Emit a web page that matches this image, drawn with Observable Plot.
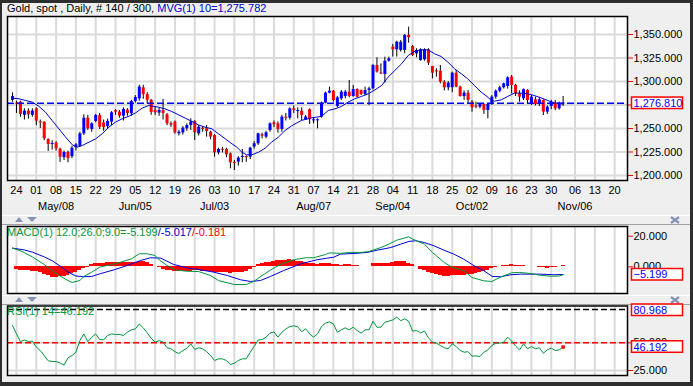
<!DOCTYPE html>
<html>
<head>
<meta charset="utf-8">
<script src="https://cdn.jsdelivr.net/npm/d3@7"></script>
<script src="https://cdn.jsdelivr.net/npm/@observablehq/plot@0.6"></script>
<style>
  html, body { margin: 0; padding: 0; background: #2e2e2e; }
  #chart { position: relative; width: 693px; height: 386px; overflow: hidden; background: #2e2e2e; font-family: "Liberation Sans", Arial, sans-serif; }
  #panel { position: absolute; left: 2px; top: 3px; width: 688px; height: 379px; background: #efefef; }
  .pane { position: absolute; left: 0; }
  #overlay { position: absolute; left: 0; top: 0; pointer-events: none; }
</style>
</head>
<body>
<div id="chart"><div id="panel"></div></div>
<script>
// ---------- DATA (x = trading-day index) ----------
const opens = [1280,1277,1278,1264,1268.5,1264,1270.9,1257,1256.8,1238.3,
1233,1234.5,1228,1219,1224.5,1220,1229.5,1231.2,1244.3,1261,
1249,1257.5,1263.8,1256,1252,1256.8,1269,1267.4,1263.1,1269.5,
1265.6,1278.7,1281.6,1293.3,1286,1280,1269,1266.4,1269,1264.6,
1255,1256.8,1244.3,1245.4,1249.7,1253.2,1257.5,1244.3,1250.4,1249.7,
1246.1,1242.6,1224.1,1227.7,1227.7,1223,1213.5,1214.2,1219.5,1220,
1219.5,1230.2,1233.7,1243.3,1240.8,1247.9,1256,1255,1249,1262.1,
1261,1270.9,1268.4,1268.4,1259.2,1269.9,1258.5,1258.5,1262.1,1277,
1287.6,1289.7,1273.4,1281.6,1284,1288.7,1284,1291.5,1290.4,1286.2,
1290.4,1292.2,1317,1308.9,1307.5,1321.6,1336.5,1333.7,1333,1333,
1349,1337.2,1329.4,1322.3,1323.1,1333.7,1316,1311,1311,1299.3,
1293.3,1293.3,1308.9,1294,1284,1287.6,1278,1273.4,1272.7,1275.6,
1269.2,1276.3,1283.4,1289.7,1293.3,1294.7,1304.6,1295.8,1287,1281.6,
1290.4,1276.3,1280.5,1276.3,1279.8,1267.4,1273.4,1277,1270.9,1276.5];
const highs = [1288,1279,1279,1271,1271,1271,1272,1259,1257,1239,
1237,1236,1229,1226,1226,1231,1234,1246,1264.6,1264,
1256,1265,1266,1259,1260,1268,1270,1269,1272,1271,
1280,1285,1296,1296,1288,1281,1273,1272,1281,1266,
1257,1258,1248,1252,1255,1260.3,1258.5,1253,1252,1253.2,
1247,1243.5,1229,1230,1229,1224,1216,1220,1227.7,1221,
1230,1236,1245,1245,1247,1256,1258,1257,1264,1266,
1272,1274,1272,1272,1263.8,1270.9,1261.4,1260.3,1278,1288.7,
1294,1290.4,1284.1,1290.4,1290.4,1301.1,1295.8,1292.2,1291,1294,
1294,1318,1325.2,1318.8,1325.9,1325.9,1339.4,1342.9,1343.6,1350,
1357.8,1338.3,1334.8,1334.8,1334.8,1334.8,1316,1313.5,1317,1301,
1300,1310,1311.7,1295,1290,1290.4,1279.8,1278,1276.3,1276.3,
1276.3,1285,1291,1295,1298.2,1305,1306.4,1297,1290,1292,
1291.2,1285,1283.4,1282.6,1280.5,1274,1280,1279.8,1278,1284];
const lows = [1278,1266,1262,1259,1260,1262,1253,1250,1237,1225.6,
1227,1226,1214,1216,1213.5,1218,1226,1230,1242.6,1248,
1246,1256,1249,1247,1250,1253,1264,1261,1258,1263,
1263,1277,1279,1281,1276,1264,1264,1263,1259,1253,
1251,1244,1242,1243,1247,1248,1237.3,1242,1246,1240.8,
1238,1219.5,1222,1224,1219,1207.1,1205.3,1210,1213.5,1214,
1217,1228,1232,1239,1239,1246,1251,1245,1246,1258,
1259,1266,1260.3,1258.5,1258.5,1254.3,1255,1249.7,1261,1276.3,
1286.9,1278,1272,1279.8,1281.6,1282.6,1283.3,1282.6,1285,1285,
1274.5,1291,1308.9,1307.5,1298.2,1320.6,1326,1326,1331.2,1329.4,
1340.8,1326.6,1325.2,1321.6,1321.6,1317,1302.8,1304.6,1297.5,1290,
1290,1288,1293.3,1283.4,1280,1275.6,1267.4,1271,1270.9,1265,
1260.3,1274.5,1281,1288,1292,1292,1286.9,1284,1278,1279.8,
1276.3,1274.5,1274,1273.4,1263.8,1265,1270,1269,1269.5,1273.5];
const closes = [1284,1276,1265,1268.5,1264.6,1268.5,1257.8,1256,1239,1233,
1234,1228.4,1219.5,1224.5,1218,1229,1232.6,1244.3,1261,1249.7,
1255,1263.8,1251.4,1251,1257.5,1266.7,1267.4,1263.1,1270.2,1266,
1278.7,1283,1294,1286,1280,1267,1266.7,1269.2,1266,1255,
1253.5,1245.4,1246.1,1250.4,1253.2,1256.8,1245.4,1251.4,1249,1246.8,
1240.8,1224.1,1227.7,1227,1222,1213.5,1213,1218.5,1220,1219.2,
1229.1,1233.7,1244.3,1241.9,1245.4,1255,1254,1249,1262.1,1261,
1270.9,1269.2,1268.8,1263.8,1262.1,1259.2,1258.8,1259,1277,1287.6,
1289.7,1279.8,1282.6,1288.7,1288.7,1284,1291.5,1283.3,1286.2,1290.4,
1292.2,1317,1310,1308.2,1321.6,1324.1,1333.7,1341.8,1341.8,1349,
1346.5,1327.7,1333,1333.7,1333.7,1319.5,1308.9,1310.5,1299.3,1293.3,
1298.2,1308.9,1294,1284,1287.6,1279.8,1272,1273,1275.6,1269.2,
1275.6,1283.4,1289.7,1293.3,1297.5,1303.9,1295.8,1286.9,1283.4,1291.2,
1279.8,1283.4,1275.6,1280.5,1267.4,1272.7,1277.7,1270.9,1277,1276.81];

// 10-period moving average, read at these day positions
const maIdx = [0,1.6,3.3,5,6.6,8.3,10,11.7,13.4,15.1,16.3,17.6,19.3,21,22.6,24.3,26,27.7,29.4,31.1,
32.7,34.4,36.8,38.5,40.2,41.9,43.6,45.3,46.9,48.6,50.3,52,53.7,55.4,56.6,57.9,59.1,60.4,62.1,63.8,
65.4,67.1,68.8,70.5,72.9,75.5,78,79.7,81.4,83,84.7,86.4,88.1,89.8,91.5,93.2,94.8,96.5,98.2,99.9,
101.6,103.2,104.9,106.6,108.2,109.9,111.6,113.3,114.9,116.6,118.3,120,120.8,121.7,123.4,125,126.7,128.4,130.1,131.7,
133.4,135.1,136.8,138.5,139];
const maVal = [1282.3,1281.6,1279.8,1278,1273.8,1267.4,1258.5,1249.7,1240.8,1232.6,1230.2,1231.9,1235.5,1239,1244.3,1251.4,1256.8,1260.3,1263.1,1266.7,
1271.6,1274.5,1272.7,1270.9,1268.1,1264.6,1261,1257.5,1253.9,1251.4,1249.7,1244.3,1239,1233.7,1230.2,1224.8,1222,1222,1224.8,1229.1,
1235.5,1240.8,1247.9,1253,1258.5,1261.4,1262.8,1269.2,1270.9,1273.4,1278,1281.6,1284.1,1286.9,1291.1,1295.8,1304.6,1311.7,1318.8,1327.7,
1332.3,1333.7,1333.7,1329.4,1326.6,1320.6,1313.5,1308.2,1302.9,1295.8,1288.7,1283.4,1279.8,1279.1,1280.5,1284.1,1287.6,1287.6,1286.9,1285.1,
1282.6,1279.8,1277.3,1276.3,1275.8];

// MACD line (green) and signal (blue), read at these day positions
const macdIdx = [0,2,5,8,10,12,14,15,17,18,20,22,25,27,30,32,34,36,37,39,41,44,47,50,52,56,59,61,63,66,
68,71,74,76,79,80,83,85,88,90,93,95,97,100,101,104,106,109,111,114,116,119,121,123,126,128,131,133,136,138,139];
const macdVal = [12.2,10.5,6.5,1.5,-2.5,-6.0,-9.0,-10.2,-9.0,-6.3,-3.5,-0.2,1.5,2.8,5.2,8.5,8.5,7.4,4.6,0.9,
-2.0,-2.9,-3.1,-5.7,-9.0,-11.6,-11.6,-9.4,-5.7,-0.7,1.9,4.6,5.9,5.9,8.0,9.1,8.8,9.4,9.4,10.0,
12.6,14.8,17.4,19.6,18.1,14.8,9.4,2.8,-0.4,-2.6,-7.0,-9.2,-9.6,-7.0,-3.9,-3.7,-4.4,-5.5,-6.2,-6.0,-5.199];
const sigIdx = [0,3,5,8,10,12,14,16,18,20,22,25.6,29,32.3,34.8,37.4,40.7,44.1,47.5,50.8,
54.2,57.6,60.1,62.6,65.1,68.5,72.7,76.9,81.1,82.8,86.2,89.6,92.1,95.5,98,100.1,101.8,103.9,106.4,108.9,
111.4,113.9,116.5,119,121.1,123.2,125.8,128.3,130.8,133.3,136.7,139];
const sigVal = [12.2,11.0,9.6,6.5,4.0,0.5,-3.5,-6.0,-6.5,-6.3,-4.6,-2.0,0.9,4.1,5.9,5.7,1.5,-0.7,-2.0,-3.5,
-5.7,-8.5,-9.6,-8.95,-6.3,-2.4,1.9,4.6,6.3,8.3,8.7,9.4,10.9,12.6,14.8,16.6,17.0,15.9,13.7,10.9,
8.3,5.0,0.7,-2.6,-6.3,-6.5,-5.2,-4.8,-4.8,-4.8,-5.2,-5.017];
// MACD histogram, one value per day
const histVals = [0.5,-1.5,-2.2,-2.4,-2.6,-2.8,-3.2,-3.8,-4.8,-6.0,
-6.8,-7.2,-6.5,-6.2,-5.5,-4.6,-3.5,-2.6,-1.3,-0.3,
1.3,2.2,2.2,2.4,2.6,2.6,3.0,3.0,3.0,3.0,
2.8,2.8,3.3,3.5,2.6,1.5,0.5,-0.5,-1.8,-2.4,
-2.6,-3.0,-3.2,-3.3,-3.0,-2.8,-2.6,-2.6,-2.8,-3.0,
-3.3,-3.5,-3.5,-3.7,-3.9,-4.1,-4.0,-3.9,-3.5,-3.0,
-2.0,-0.5,1.5,2.0,2.6,3.0,3.5,4.0,4.3,4.4,
4.5,3.9,3.5,3.2,2.6,2.2,1.9,1.5,1.9,2.4,
2.2,1.7,1.3,1.0,1.3,1.3,0.9,0.9,0.5,0.2,
0.2,1.9,1.9,2.0,2.2,2.4,3.0,3.3,3.5,3.3,
2.4,1.5,0.2,-1.5,-2.4,-3.5,-4.4,-4.8,-5.7,-6.2,
-6.5,-6.0,-5.5,-5.7,-5.7,-5.0,-4.8,-4.4,-3.5,-3.0,
-2.2,-1.3,-0.6,0.2,0.6,0.8,1.2,0.9,0.6,0.6,
0.4,0.2,0.0,-0.2,-0.6,-0.8,-0.4,-0.3,0.2,0.7];
// RSI(14), one value per day
const rsiVals = [65.6,58,51,52.5,51.2,51.5,46.1,43,38.5,33.7,
33.1,33.1,31.8,29.8,36.5,38.5,41.5,52,58,51,
55,58,53,52.7,56.6,58,57.5,57.5,56.6,59.6,
61.7,62.6,67,63.5,59,54,50.6,52,50.6,45.5,
44.6,42,40.3,43,45,49,44,45.5,44.6,42,
38.5,34,35.5,35.5,34,30.4,31.5,34,35.5,35.5,
41.5,46.7,52.5,53,55.1,58.7,59.9,55.1,59.6,62.5,
64.7,65.3,64.5,60,62.6,58.1,55.1,58.1,64.7,67.7,
68.9,67.1,59.6,61.7,63.5,61.7,64.1,61,58.7,61.7,
61.7,69.5,64,64.1,68.6,69.5,70.7,73.1,70,71.6,
69.5,60.5,61.1,59,60.5,54.5,50.6,49.7,47.6,45.5,
44.6,49.1,46.7,43,41.5,42,38,38.2,37.6,41.5,
43.6,47.6,49.7,49.7,50.6,55.1,51.5,47,43.6,49.1,
44.6,46.7,44.6,45.5,40.6,43.6,45.2,43,43.6,46.192];

// axis ticks and labels
const dayTickIdx = [1,6,11,16,21,26,31,36,41,46,51,56,61,66,71,76,81,86,91,96,101,106,111,116,121,126,131,136,142,147,152];
const dayLabels = ["24","01","08","15","22","29","05","12","19","26","03","10","17","24","31","07","14","21","28","04","11","18","25","02","09","16","23","30","06","13","20"];
const monthTickIdx = [11,31,51,76,96,116,142];
const monthLabels = ["May/08","Jun/05","Jul/03","Aug/07","Sep/04","Oct/02","Nov/06"];
const priceTicks = [1200,1225,1250,1275,1300,1325,1350];
const priceTickHiddenLabel = 1275; // covered by the last-price box in the reference
const macdTicks = [0,20];
const rsiTicks = [25,50];
const rsiLevels = {over: 80, mid: 50};
const lastPrice = 1276.81;
const titleMain = "Gold, spot , Daily, # 140 / 300, ";
const titleMA = "MVG(1) 10=1,275.782";
const macdTitle = ["MACD(1) 12.0;26.0;9.0=-5.199", "/-5.017", "/-0.181"];
const rsiTitle = "RSI(1) 14=46.192";
const rsiMaxLabel = 80.968;

// ---------- BUILD ----------
const ff = '"Liberation Sans", Arial, sans-serif';
const W = 693;
const green = "#00963c", blueL = "#0000dd", red = "#ff0000", gridC = "#dadada";
const baseStyle = {fontFamily: ff, fontSize: "11px", background: "transparent", overflow: "visible", color: "black"};
const xDomain = [-1.272, 155.25];
const fmt3 = d3.format(",.3f");
const dayMap = new Map(dayTickIdx.map((d, k) => [d, dayLabels[k]]));
const monthMap = new Map(monthTickIdx.map((d, k) => [d, monthLabels[k]]));

const candles = closes.map((c, i) => ({i, o: opens[i], h: highs[i], l: lows[i], c}));
const bodyLo = d => { const lo = Math.min(d.o, d.c), hi = Math.max(d.o, d.c); return hi - lo < 1.1 ? (lo + hi) / 2 - 0.55 : lo; };
const bodyHi = d => { const lo = Math.min(d.o, d.c), hi = Math.max(d.o, d.c); return hi - lo < 1.1 ? (lo + hi) / 2 + 0.55 : hi; };
const ma = maIdx.map((i, k) => ({i, v: maVal[k]}));
const macdLine = macdIdx.map((i, k) => ({i, v: macdVal[k]}));
const sigLine = sigIdx.map((i, k) => ({i, v: sigVal[k]}));
const hist = histVals.map((v, i) => ({i, v}));
const rsi = rsiVals.map((v, i) => ({i, v}));
const N = closes.length;

const gridV = () => Plot.gridX({ticks: dayTickIdx, stroke: gridC, strokeOpacity: 1, strokeWidth: 2});
const rightAxis = (ticks, fmt = fmt3) => Plot.axisY({anchor: "right", ticks, tickFormat: fmt, tickSize: 5, tickPadding: 1, stroke: red, fill: "black", label: null});

const main = Plot.plot({
  width: W, height: 215, marginLeft: 7, marginRight: 66, marginTop: 16, marginBottom: 35,
  style: baseStyle,
  x: {domain: xDomain},
  y: {domain: [1194.68, 1369.15]},
  marks: [
    Plot.frame({fill: "white", stroke: "none"}),
    gridV(),
    Plot.gridY({ticks: priceTicks, stroke: gridC, strokeOpacity: 1, strokeWidth: 2}),
    Plot.ruleX(candles, {x: "i", y1: "l", y2: "h", stroke: "black", strokeWidth: 1}),
    Plot.ruleX(candles.filter(d => d.c >= d.o), {x: "i", y1: bodyLo, y2: bodyHi, stroke: "#0000ff", strokeWidth: 3}),
    Plot.ruleX(candles.filter(d => d.c < d.o), {x: "i", y1: bodyLo, y2: bodyHi, stroke: red, strokeWidth: 3}),
    Plot.line(ma, {x: "i", y: "v", stroke: "#0000c8", strokeWidth: 1}),
    Plot.ruleY([lastPrice], {stroke: "#0000ff", strokeWidth: 1.5, strokeDasharray: "7,3"}),
    rightAxis(priceTicks, d => d === priceTickHiddenLabel ? "" : fmt3(d)),
    Plot.axisX({ticks: dayTickIdx, tickFormat: d => dayMap.get(d), tickSize: 0, tickPadding: 6, fill: "black", label: null}),
    Plot.axisX({ticks: monthTickIdx, tickFormat: d => monthMap.get(d), tickSize: 0, tickPadding: 22, fill: "black", label: null}),
    Plot.frame({stroke: "black", strokeWidth: 1.5})
  ]
});

const macd = Plot.plot({
  width: W, height: 72, marginLeft: 7, marginRight: 66, marginTop: 2, marginBottom: 3,
  style: baseStyle,
  x: {domain: xDomain, axis: null},
  y: {domain: [-17.45, 26.34]},
  marks: [
    Plot.frame({fill: "white", stroke: "none"}),
    gridV(),
    Plot.rect(hist, {x1: d => d.i - 0.5, x2: d => d.i + 0.5, y1: 0, y2: "v", fill: red, shapeRendering: "crispEdges"}),
    Plot.line(sigLine, {x: "i", y: "v", stroke: blueL, strokeWidth: 1}),
    Plot.line(macdLine, {x: "i", y: "v", stroke: green, strokeWidth: 1}),
    rightAxis(macdTicks),
    Plot.frame({stroke: "black", strokeWidth: 1.5})
  ]
});

const rsiP = Plot.plot({
  width: W, height: 74, marginLeft: 7, marginRight: 66, marginTop: 1.5, marginBottom: 3,
  style: baseStyle,
  x: {domain: xDomain, axis: null},
  y: {domain: [20.49, 83.21]},
  marks: [
    Plot.frame({fill: "white", stroke: "none"}),
    gridV(),
    Plot.gridY({ticks: rsiTicks, stroke: gridC, strokeOpacity: 1, strokeWidth: 2}),
    Plot.ruleY([rsiLevels.over], {stroke: "black", strokeWidth: 1.5, strokeDasharray: "6,3"}),
    Plot.ruleY([rsiLevels.mid], {stroke: red, strokeWidth: 1.5, strokeDasharray: "6,3"}),
    Plot.line(rsi, {x: "i", y: "v", stroke: green, strokeWidth: 1}),
    Plot.dot([rsi[N - 1]], {x: "i", y: "v", symbol: "square", r: 1.9, fill: red, stroke: "none"}),
    rightAxis(rsiTicks),
    Plot.frame({stroke: "black", strokeWidth: 1.5})
  ]
});

const chart = document.getElementById("chart");
const panes = [[main, 0], [macd, 224], [rsiP, 304]];
for (const [svg, top] of panes) {
  const d = document.createElement("div");
  d.className = "pane"; d.style.top = top + "px";
  d.appendChild(svg); chart.appendChild(d);
}

// ---------- overlay: pane chrome, titles, value boxes ----------
const ov = d3.select(chart).append("svg").attr("id", "overlay").attr("width", W).attr("height", 386)
  .attr("font-family", ff);
[[215, "#ffffff"], [224, "#a0a0a0"], [295, "#ffffff"], [304, "#a0a0a0"]].forEach(([y, c]) =>
  ov.append("line").attr("x1", 2).attr("x2", 690).attr("y1", y + 0.5).attr("y2", y + 0.5).attr("stroke", c));
const iconC = "#8793b5";
for (const y of [217, 297]) {
  ov.append("path").attr("d", `M15,${y + 5}L23,${y + 5}L19,${y}Z`).attr("fill", iconC);
  ov.append("path").attr("d", `M27,${y}L37,${y}L32,${y + 5}Z`).attr("fill", iconC);
  ov.append("path").attr("d", `M671,${y}L679,${y + 6}M679,${y}L671,${y + 6}`).attr("stroke", iconC).attr("stroke-width", 2.2);
}
function title(y, parts) {
  const t = ov.append("text").attr("x", 7).attr("y", y).attr("font-size", 11).style("white-space", "pre");
  for (const [txt, col] of parts) t.append("tspan").attr("fill", col).text(txt);
}
title(12.3, [[titleMain, "black"], [titleMA, "#0000cc"]]);
title(236, [[macdTitle[0], green], [macdTitle[1], "#0000cc"], [macdTitle[2], red]]);
title(315, [[rsiTitle, green]]);

function valueBox(cy, value, minTop) {
  let top = cy - 5.75;
  if (minTop !== undefined) top = Math.max(top, minTop);
  ov.append("rect").attr("x", 631.5).attr("y", top).attr("width", 51).attr("height", 11.5)
    .attr("fill", "white").attr("stroke", red).attr("stroke-width", 1.5);
  ov.append("text").attr("x", 633.5).attr("y", top + 9.9).attr("font-size", 11).attr("fill", "#0000ff").text(value);
}
valueBox(main.scale("y").apply(lastPrice), fmt3(lastPrice));
valueBox(224 + macd.scale("y").apply(macdVal[macdVal.length - 1]), fmt3(macdVal[macdVal.length - 1]));
valueBox(304 + rsiP.scale("y").apply(rsiMaxLabel), fmt3(rsiMaxLabel), 304);
valueBox(304 + rsiP.scale("y").apply(rsiVals[N - 1]), fmt3(rsiVals[N - 1]));
</script>
</body>
</html>
